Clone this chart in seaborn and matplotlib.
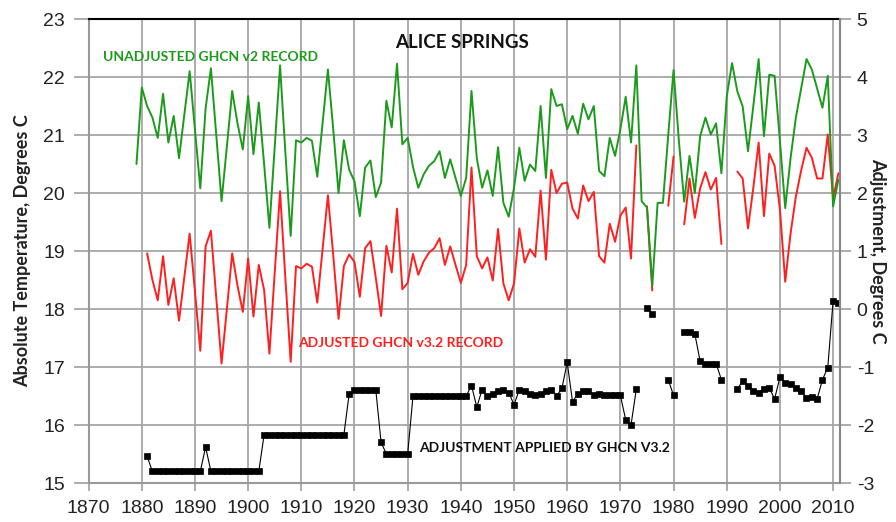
import numpy as np
import pandas as pd
import matplotlib
matplotlib.use("Agg")
import matplotlib.pyplot as plt
import seaborn as sns

# ---------------- data ----------------
years_unadj = list(range(1879, 2012))
unadjusted = [
    20.5, 21.82, 21.5, 21.3, 20.95, 21.71, 20.87, 21.33, 20.6, 21.35,   # 1879-1888
    22.1, 21.1, 20.08, 21.46, 22.15, 21.0, 19.86, 20.8, 21.76, 21.2,    # 1889-1898
    20.75, 21.67, 20.67, 21.56, 20.5, 19.4, 20.8, 22.2, 20.7, 19.26,    # 1899-1908
    20.91, 20.87, 20.95, 20.9, 20.28, 21.2, 22.13, 21.1, 20.0, 20.91,   # 1909-1918
    20.4, 20.2, 19.6, 20.44, 20.56, 19.93, 20.18, 21.59, 21.13, 22.23,  # 1919-1928
    20.84, 20.95, 20.45, 20.09, 20.32, 20.47, 20.55, 20.72, 20.26, 20.58,  # 1929-1938
    20.26, 19.95, 20.26, 21.76, 20.6, 20.09, 20.39, 19.95, 20.79, 19.83,   # 1939-1948
    19.59, 20.09, 20.78, 20.21, 20.49, 20.38, 21.5, 20.26, 21.79, 21.5,    # 1949-1958
    21.53, 21.1, 21.33, 21.02, 21.54, 21.27, 21.5, 20.38, 20.29, 20.95,    # 1959-1968
    20.64, 21.1, 21.66, 20.87, 22.2, 19.86, 19.75, 18.4, 19.83, 19.83,     # 1969-1978
    21.0, 22.12, 20.9, 19.85, 20.64, 20.0, 20.98, 21.3, 21.01, 21.2,       # 1979-1988
    20.34, 21.66, 22.24, 21.75, 21.49, 20.72, 21.5, 22.31, 20.98, 22.04,   # 1989-1998
    22.02, 20.9, 19.74, 20.6, 21.3, 21.8, 22.31, 22.13, 21.8, 21.47,       # 1999-2008
    22.02, 19.77, 20.23,                                                   # 2009-2011
]

nan = np.nan
years_adj = list(range(1881, 2012))
adjusted = [
    18.96, 18.5, 18.15, 18.91, 18.07, 18.53, 17.8, 18.55, 19.3, 18.3,      # 1881-1890
    17.28, 19.08, 19.35, 18.2, 17.06, 18.0, 18.96, 18.4, 17.95, 18.87,     # 1891-1900
    17.87, 18.76, 18.33, 17.23, 18.63, 20.03, 18.53, 17.09, 18.74, 18.7,   # 1901-1910
    18.78, 18.73, 18.11, 19.03, 19.96, 18.93, 17.83, 18.74, 18.94, 18.81,  # 1911-1920
    18.21, 19.05, 19.17, 18.54, 17.88, 19.09, 18.63, 19.73, 18.34, 18.45,  # 1921-1930
    18.95, 18.59, 18.82, 18.97, 19.05, 19.22, 18.76, 19.08, 18.76, 18.45,  # 1931-1940
    18.76, 20.44, 18.91, 18.7, 18.89, 18.49, 19.38, 18.44, 18.15, 18.44,   # 1941-1950
    19.39, 18.8, 19.03, 18.9, 20.04, 18.85, 20.4, 20.0, 20.16, 20.18,      # 1951-1960
    19.73, 19.56, 20.13, 19.86, 20.02, 18.91, 18.8, 19.47, 19.16, 19.61,   # 1961-1970
    19.75, 18.87, 20.82, nan, 19.77, 18.32, nan, nan, 19.78, 20.63,        # 1971-1980
    nan, 19.46, 20.25, 19.57, 20.08, 20.36, 20.06, 20.26, 19.12, nan,      # 1981-1990
    nan, 20.37, 20.25, 19.39, 20.09, 20.87, 19.6, 20.68, 20.47, 19.72,     # 1991-2000
    18.47, 19.3, 19.94, 20.39, 20.78, 20.61, 20.25, 20.25, 21.01, 19.91,   # 2001-2010
    20.34,                                                                 # 2011
]
adjustment = [
    -2.54, -2.8, -2.8, -2.8, -2.8, -2.8, -2.8, -2.8, -2.8, -2.8,           # 1881-1890
    -2.8, -2.38, -2.8, -2.8, -2.8, -2.8, -2.8, -2.8, -2.8, -2.8,           # 1891-1900
    -2.8, -2.8, -2.17, -2.17, -2.17, -2.17, -2.17, -2.17, -2.17, -2.17,    # 1901-1910
    -2.17, -2.17, -2.17, -2.17, -2.17, -2.17, -2.17, -2.17, -1.46, -1.39,  # 1911-1920
    -1.39, -1.39, -1.39, -1.39, -2.3, -2.5, -2.5, -2.5, -2.5, -2.5,        # 1921-1930
    -1.5, -1.5, -1.5, -1.5, -1.5, -1.5, -1.5, -1.5, -1.5, -1.5,            # 1931-1940
    -1.5, -1.32, -1.69, -1.39, -1.5, -1.46, -1.41, -1.39, -1.44, -1.65,    # 1941-1950
    -1.39, -1.41, -1.46, -1.48, -1.46, -1.41, -1.39, -1.5, -1.37, -0.92,   # 1951-1960
    -1.6, -1.46, -1.41, -1.41, -1.48, -1.47, -1.49, -1.48, -1.48, -1.49,   # 1961-1970
    -1.91, -2.0, -1.38, nan, 0.02, -0.08, nan, nan, -1.22, -1.49,          # 1971-1980
    nan, -0.39, -0.39, -0.43, -0.9, -0.94, -0.95, -0.94, -1.22, nan,       # 1981-1990
    nan, -1.38, -1.24, -1.33, -1.41, -1.44, -1.38, -1.36, -1.55, -1.18,    # 1991-2000
    -1.27, -1.3, -1.36, -1.41, -1.53, -1.52, -1.55, -1.22, -1.01, 0.14,    # 2001-2010
    0.11,                                                                  # 2011
]

x_ticks = list(range(1870, 2011, 10))
left_ticks = list(range(15, 24))
right_ticks = list(range(-3, 6))

# ---------------- style ----------------
sns.set_theme(style="white")
tick_font = ["Liberation Sans Narrow", "Liberation Sans", "DejaVu Sans"]
lab_font = ["Lato", "Open Sans", "DejaVu Sans"]
plt.rcParams["font.family"] = tick_font

GREEN = "#1c9a1c"
RED = "#ff1f1f"
GRID = "#a6a6a6"

fig = plt.figure(figsize=(8.96, 5.22), dpi=100)
ax = fig.add_axes([0.0989, 0.0747, 0.8386, 0.8889])
ax2 = ax.twinx()
ax2.set_position(ax.get_position())

df_u = pd.DataFrame({"year": years_unadj, "temp": unadjusted})
df_a = pd.DataFrame({"year": years_adj, "temp": adjusted, "adj": adjustment})
df_a["seg"] = df_a["adj"].isna().cumsum()
df_a = df_a.dropna(subset=["adj"])

sns.lineplot(data=df_a, x="year", y="temp", units="seg", estimator=None,
             color=RED, lw=1.4, ax=ax, zorder=3, legend=False)
sns.lineplot(data=df_u, x="year", y="temp", color=GREEN, lw=1.4, ax=ax,
             zorder=4, legend=False)
sns.lineplot(data=df_a, x="year", y="adj", units="seg", estimator=None,
             color="black", lw=0.8, marker="s", markersize=4.6,
             markeredgecolor="black", markeredgewidth=0.5, ax=ax2, legend=False)

ax.set_xlim(1870, 2011.3)
ax.set_ylim(15, 23)
ax2.set_ylim(-3, 5)
ax.set_xticks(x_ticks)
ax.set_yticks(left_ticks)
ax2.set_yticks(right_ticks)
ax.set_xticklabels([str(v) for v in x_ticks])
ax.set_yticklabels([str(v) for v in left_ticks])
ax2.set_yticklabels([str(v) for v in right_ticks])

ax.grid(True, color=GRID, lw=1.3, zorder=0)
ax.set_axisbelow(True)
ax2.grid(False)

ax.tick_params(axis="x", length=6, width=1.3, color=GRID, pad=6,
               labelsize=14, labelcolor="#222222", direction="out", bottom=True)
ax.tick_params(axis="y", length=11, width=1.3, color=GRID, pad=6,
               labelsize=14, labelcolor="#222222", direction="out", left=True)
ax2.tick_params(axis="y", length=8, width=1.3, color=GRID, pad=4,
                labelsize=14, labelcolor="#222222", direction="out", right=True)

for s in ["left", "bottom", "right"]:
    ax.spines[s].set_color("#999999")
    ax.spines[s].set_linewidth(1.5)
ax.spines["top"].set_color("black")
ax.spines["top"].set_linewidth(1.5)
for s in ax2.spines.values():
    s.set_visible(False)
ax2.spines["right"].set_visible(True)
ax2.spines["right"].set_color("#888888")
ax2.spines["right"].set_linewidth(1.5)

ax.set_xlabel("")
ax.set_ylabel("Absolute Temperature, Degrees C", family=lab_font,
              fontweight="bold", fontsize=13, color="#222222", labelpad=9)
ax2.set_ylabel("Adjustment, Degrees C", family=lab_font, fontweight="bold",
               fontsize=13, color="#222222", rotation=270, labelpad=14)
ax2.yaxis.set_label_coords(1.062, 0.5)

ax.text(1940.2, 22.6, "ALICE SPRINGS", family=lab_font, fontweight="bold",
        fontsize=13.5, color="#111111", ha="center", va="center", zorder=6)
ax.text(1872.7, 22.35, "UNADJUSTED GHCN v2 RECORD", family=lab_font,
        fontweight="bold", fontsize=10, color=GREEN, ha="left", va="center", zorder=6)
ax.text(1909.4, 17.42, "ADJUSTED GHCN v3.2 RECORD", family=lab_font,
        fontweight="bold", fontsize=10, color=RED, ha="left", va="center", zorder=6)
ax.text(1932.2, 15.6, "ADJUSTMENT APPLIED BY GHCN V3.2", family=lab_font,
        fontweight="bold", fontsize=10, color="#111111", ha="left", va="center", zorder=6)

fig.savefig("out.png", dpi=100)
